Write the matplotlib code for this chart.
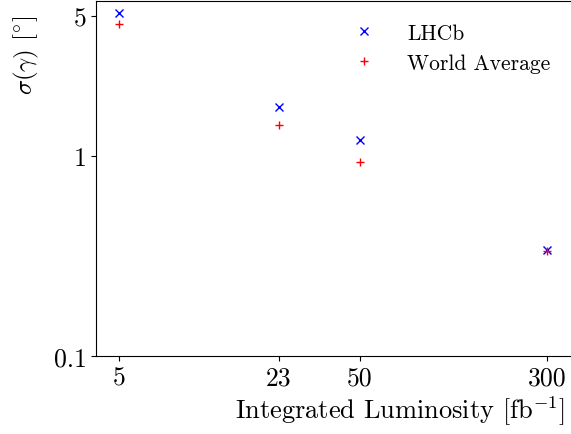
import matplotlib
matplotlib.use("Agg")
import matplotlib.pyplot as plt
from matplotlib.ticker import FixedLocator, FixedFormatter, NullLocator

plt.rcParams["font.family"] = "serif"
plt.rcParams["font.serif"] = ["cmr10"]
plt.rcParams["mathtext.fontset"] = "cm"
plt.rcParams["axes.formatter.use_mathtext"] = True

# Luminosity scenarios [fb^-1] and precision on gamma [deg]
lumi = [5, 23, 50, 300]
sigma_lhcb = [5.15, 1.75, 1.2, 0.34]
sigma_world = [4.55, 1.43, 0.93, 0.333]
x_ticklabels = ["5", "23", "50", "300"]
y_ticks = [0.1, 1, 5]
y_ticklabels = ["0.1", "1", "5"]

fig = plt.figure(figsize=(5.71, 4.35), dpi=100)
# right edge goes a bit past the canvas, like the cropped original
ax = fig.add_axes([0.169, 0.1793, 0.8415, 0.8172])

ax.plot(lumi, sigma_lhcb, "bx", linestyle="none", markersize=6, label="LHCb")
ax.plot(lumi, sigma_world, "r+", linestyle="none", markersize=6, label="World Average")

ax.set_xscale("log")
ax.set_yscale("log")
ax.set_xlim(4.03, 400)
ax.set_ylim(0.1, 5.97)

ax.xaxis.set_major_locator(FixedLocator(lumi))
ax.xaxis.set_major_formatter(FixedFormatter(x_ticklabels))
ax.xaxis.set_minor_locator(NullLocator())
ax.yaxis.set_major_locator(FixedLocator(y_ticks))
ax.yaxis.set_major_formatter(FixedFormatter(y_ticklabels))
ax.yaxis.set_minor_locator(NullLocator())
ax.tick_params(labelsize=18.5)

ax.set_xlabel(r"Integrated Luminosity [fb$^{-1}$]", fontsize=19, ha="right")
ax.xaxis.set_label_coords((565 - 96.5) / 480.5, -0.105)
ax.set_ylabel(r"$\sigma(\gamma)$ [$^{\circ}$]", fontsize=18)
ax.yaxis.set_label_coords(-0.116, 0.85)

ax.legend(frameon=False, fontsize=15.5, loc="upper right", borderaxespad=0,
          handletextpad=1.0, bbox_to_anchor=(0.9626, 0.961))

fig.savefig("out.png", dpi=100)
